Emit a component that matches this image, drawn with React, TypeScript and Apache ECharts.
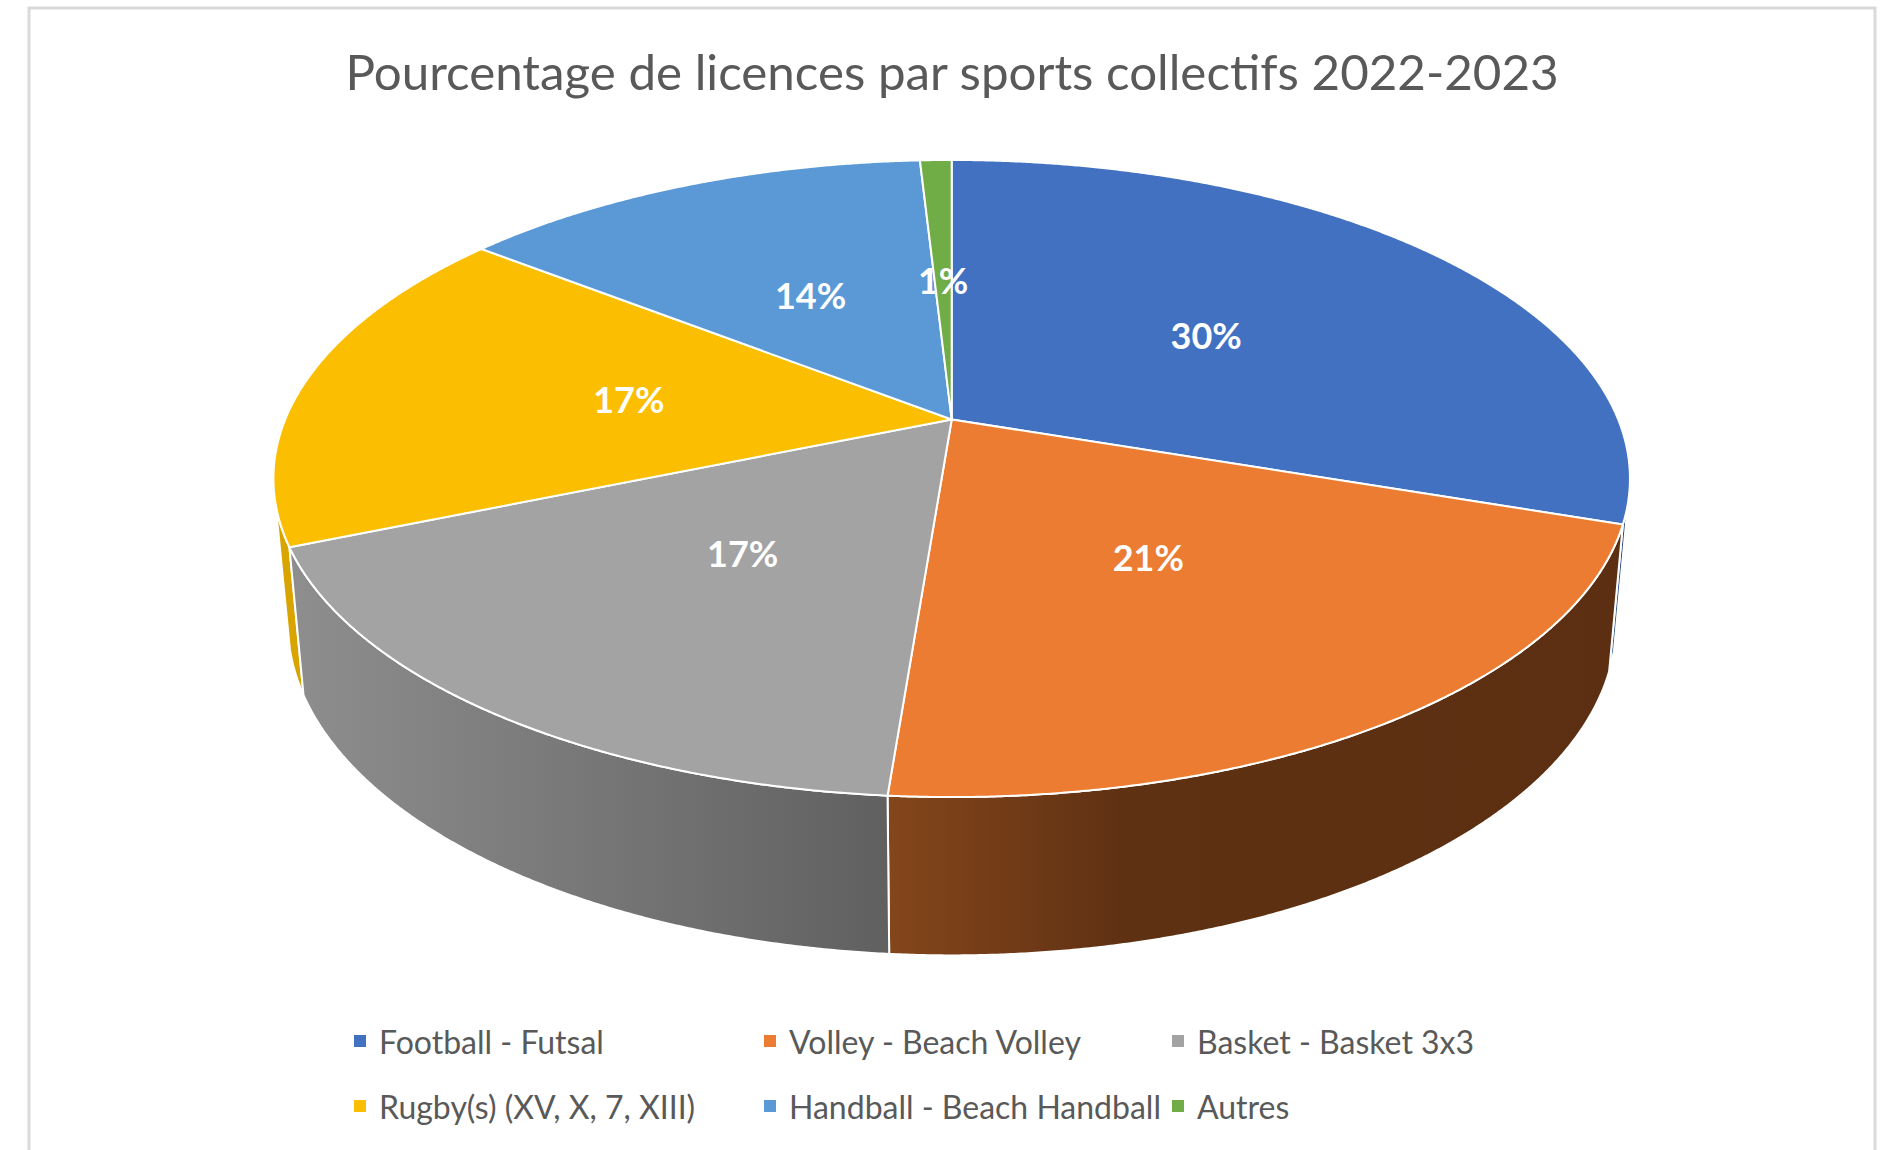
import React, { useEffect, useRef } from "react";
import * as echarts from "echarts";

const TITLE = "Pourcentage de licences par sports collectifs 2022-2023";
const CATEGORIES = [
  "Football - Futsal",
  "Volley - Beach Volley",
  "Basket - Basket 3x3",
  "Rugby(s) (XV, X, 7, XIII)",
  "Handball - Beach Handball",
  "Autres",
];
const VALUES = [30.2, 21.05, 17.45, 16.9, 13.5, 0.9];
const COLORS = ["#4271C1", "#EB7C31", "#A3A3A3", "#FBBE00", "#5B99D6", "#70AD47"];
const WALL_STOPS = [
  [[0, "#2F5597"], [1, "#264478"]],
  [[0, "#84461B"], [0.32, "#5F3113"], [1, "#5C2F12"]],
  [[0, "#8E8E8E"], [1, "#606060"]],
  [[0, "#D9A300"], [1, "#D9A300"]],
  [[0, "#3F7AB0"], [1, "#3F7AB0"]],
  [[0, "#4F7D33"], [1, "#4F7D33"]],
];

// Perspective model of the two rims: screen = centre + (R·u, S·v) / (1 − k·v)
const TOP_RIM = { cx: 951.7, cy: 419.5, R: 666.5, S: 307.6, k: 0.1853 };
const BOTTOM_RIM = { cx: 952, cy: 562, R: 652.6, S: 320.5, k: 0.1853 };
const WALL_FROM = 105;
const WALL_TO = 255;

const total = VALUES.reduce((a, b) => a + b, 0);
const angleAt = (i: number) =>
  (VALUES.slice(0, i).reduce((a, b) => a + b, 0) / total) * 360;

function project(rim: typeof TOP_RIM, deg: number, r = 1): number[] {
  const t = (deg * Math.PI) / 180;
  const u = r * Math.sin(t);
  const v = -r * Math.cos(t);
  const w = 1 - rim.k * v;
  return [rim.cx + (rim.R * u) / w, rim.cy + (rim.S * v) / w];
}

function arc(rim: typeof TOP_RIM, from: number, to: number): number[][] {
  const pts: number[][] = [];
  const n = Math.max(2, Math.ceil((to - from) * 4));
  for (let i = 0; i <= n; i++) pts.push(project(rim, from + ((to - from) * i) / n));
  return pts;
}

function renderTop(i: number) {
  return () => ({
    type: "polygon",
    shape: {
      points: [project(TOP_RIM, 0, 0), ...arc(TOP_RIM, angleAt(i), angleAt(i + 1))],
    },
    style: { fill: COLORS[i], stroke: "#fff", lineWidth: 2, lineJoin: "round" },
  });
}

function renderWall(i: number) {
  return () => {
    const from = Math.max(angleAt(i), WALL_FROM);
    const to = Math.min(angleAt(i + 1), WALL_TO);
    if (to <= from) return { type: "group", children: [] };
    return {
      type: "polygon",
      shape: {
        points: [...arc(TOP_RIM, from, to), ...arc(BOTTOM_RIM, from, to).reverse()],
      },
      style: {
        fill: new echarts.graphic.LinearGradient(
          0, 0, 1, 0,
          WALL_STOPS[i].map(([offset, color]) => ({ offset, color })) as any
        ),
        stroke: "#fff",
        lineWidth: 2,
      },
    };
  };
}

function renderLabel(_: any, api: any) {
  const i = api.value(0);
  const mid = (angleAt(i) + angleAt(i + 1)) / 2;
  const [x, y] = project(TOP_RIM, mid, 0.495);
  return {
    type: "text",
    style: {
      x,
      y,
      text: `${Math.round(VALUES[i])}%`,
      fill: "#fff",
      font: "bold 36px Lato",
      align: "center",
      verticalAlign: "middle",
    },
  };
}

const legendBase = {
  orient: "vertical",
  top: 1020,
  icon: "rect",
  itemWidth: 12,
  itemHeight: 12,
  itemGap: 33,
  textStyle: {
    color: "#595959",
    fontFamily: "Lato",
    fontSize: 32,
    padding: [0, 0, 0, 8],
  },
};

export default function App() {
  const ref = useRef<HTMLDivElement>(null);
  useEffect(() => {
    const chart = echarts.init(ref.current!, null, { renderer: "svg" });
    chart.setOption({
      animation: false,
      backgroundColor: "#fff",
      color: COLORS,
      title: {
        text: TITLE,
        left: 947,
        top: 41,
        textAlign: "center",
        textStyle: { color: "#595959", fontFamily: "Lato", fontWeight: "normal", fontSize: 49.3 },
      },
      legend: [
        { ...legendBase, left: 349, data: [CATEGORIES[0], CATEGORIES[3]] },
        { ...legendBase, left: 759, data: [CATEGORIES[1], CATEGORIES[4]] },
        { ...legendBase, left: 1167, data: [CATEGORIES[2], CATEGORIES[5]] },
      ],
      graphic: [
        {
          type: "polyline",
          shape: { points: [[29, 1150], [29, 8], [1875, 8], [1875, 1150]] },
          style: { stroke: "#D9D9D9", lineWidth: 3, fill: "none" },
          silent: true,
        },
      ],
      series: [
        ...CATEGORIES.map((name, i) => ({
          type: "custom",
          name,
          coordinateSystem: "none",
          silent: true,
          z: 3,
          data: [VALUES[i]],
          renderItem: renderTop(i),
        })),
        ...[3, 4, 5, 0, 1, 2].map((i) => ({
          type: "custom",
          name: `wall-${CATEGORIES[i]}`,
          coordinateSystem: "none",
          silent: true,
          z: 2,
          data: [VALUES[i]],
          renderItem: renderWall(i),
        })),
        {
          type: "custom",
          name: "labels",
          coordinateSystem: "none",
          silent: true,
          z: 4,
          data: VALUES.map((_, i) => [i]),
          renderItem: renderLabel,
        },
      ],
    });
    return () => chart.dispose();
  }, []);
  return (
    <div
      ref={ref}
      style={{ position: "absolute", left: 0, top: 0, width: 1890, height: 1150 }}
    />
  );
}
